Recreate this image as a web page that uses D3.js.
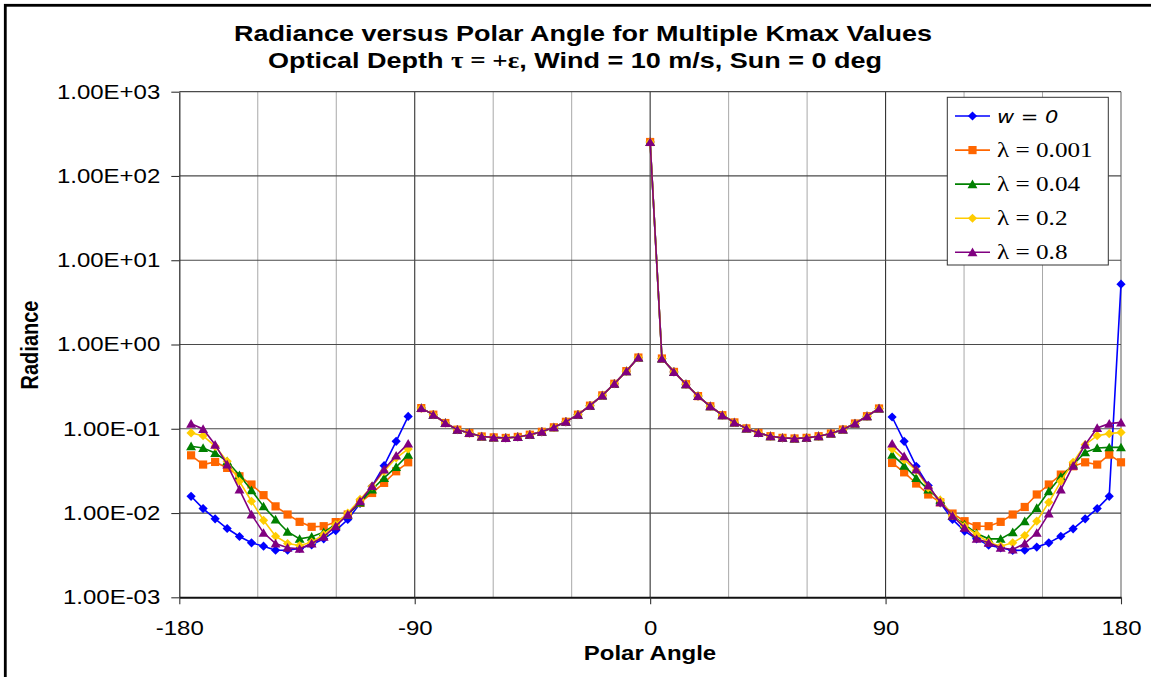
<!DOCTYPE html>
<html>
<head>
<meta charset="utf-8">
<script src="https://cdn.jsdelivr.net/npm/d3@7/dist/d3.min.js"></script>
<style>
  body { margin: 0; background: #fff; }
  svg { display: block; }
</style>
</head>
<body>
<svg id="chart" width="1151" height="677"></svg>
<script>
// ---- Data --------------------------------------------------------------
// Polar angles (deg) of the sampled directions.
const lowerLeftAngles  = [-175.5, -170.9, -166.3, -161.7, -157.0, -152.4, -147.8, -143.2, -138.6, -134.0,
                          -129.4, -124.8, -120.2, -115.6, -110.9, -106.3, -101.7, -97.1, -92.5];
const skyLeftAngles    = [-87.5, -82.9, -78.3, -73.7, -69.1, -64.4, -59.8, -55.2, -50.6, -46.0,
                          -41.4, -36.8, -32.2, -27.6, -23.0, -18.3, -13.7, -9.1, -4.5];
const skyRightAngles   = [0, 4.5, 9.1, 13.7, 18.3, 23.0, 27.6, 32.2, 36.8, 41.4, 46.0,
                          50.6, 55.2, 59.8, 64.4, 69.1, 73.7, 78.3, 82.9, 87.5];
const lowerRightAngles = [92.5, 97.1, 101.7, 106.3, 110.9, 115.6, 120.2, 124.8, 129.4, 134.0,
                          138.6, 143.2, 147.8, 152.4, 157.0, 161.7, 166.3, 170.9, 175.5, 180];

// Sky radiance is the same for every case.
const skyLeftRadiance  = [0.176, 0.147, 0.117, 0.0975, 0.089, 0.081, 0.079, 0.0778, 0.080, 0.085,
                          0.092, 0.104, 0.121, 0.147, 0.188, 0.249, 0.342, 0.483, 0.70];
const skyRightRadiance = [253, 0.682, 0.473, 0.338, 0.244, 0.185, 0.145, 0.119, 0.101, 0.0893, 0.0816,
                          0.078, 0.0767, 0.078, 0.0816, 0.0879, 0.098, 0.1155, 0.141, 0.174];

// Radiance below the horizon, per case.
const w0Left     = [0.0158, 0.0113, 0.00853, 0.00655, 0.00527, 0.00443, 0.00404, 0.00362, 0.00362, 0.0038,
                    0.0042, 0.00494, 0.0062, 0.00838, 0.013, 0.0208, 0.0365, 0.071, 0.140];
const w0Right    = [0.138, 0.071, 0.0359, 0.0212, 0.0132, 0.0084, 0.0061, 0.00494, 0.00416, 0.00387,
                    0.0036, 0.00362, 0.00394, 0.00443, 0.0053, 0.0065, 0.00853, 0.0113, 0.0158, 5.2];
const lam0001Left  = [0.0484, 0.0376, 0.0404, 0.0343, 0.0273, 0.0218, 0.0163, 0.0120, 0.0096, 0.00786,
                      0.00686, 0.00698, 0.0078, 0.0096, 0.0132, 0.0173, 0.0228, 0.0313, 0.040];
const lam0001Right = [0.0393, 0.0304, 0.0224, 0.0166, 0.0134, 0.00986, 0.0080, 0.00698, 0.00698, 0.00786,
                      0.0096, 0.0118, 0.0166, 0.0218, 0.0286, 0.0359, 0.040, 0.0376, 0.0493, 0.040];
const lam004Left   = [0.0619, 0.0592, 0.0516, 0.0411, 0.0281, 0.0186, 0.0120, 0.0084, 0.0060, 0.00494,
                      0.00522, 0.00593, 0.00731, 0.0096, 0.0133, 0.019, 0.0261, 0.0352, 0.0493];
const lam004Right  = [0.0493, 0.0365, 0.0261, 0.019, 0.0142, 0.0093, 0.0073, 0.00572, 0.00494, 0.00494,
                      0.00593, 0.0080, 0.0115, 0.0181, 0.0269, 0.0376, 0.0525, 0.0592, 0.0602, 0.0602];
const lam02Left    = [0.0892, 0.0828, 0.0619, 0.0411, 0.0238, 0.0138, 0.0082, 0.0053, 0.00435, 0.00412,
                      0.00451, 0.00556, 0.0073, 0.010, 0.0145, 0.0208, 0.0313, 0.045, 0.0576];
const lam02Right   = [0.0576, 0.043, 0.0321, 0.0199, 0.0142, 0.0093, 0.00698, 0.00556, 0.00451, 0.00404,
                      0.00443, 0.0054, 0.0080, 0.0134, 0.0238, 0.040, 0.0648, 0.0828, 0.0875, 0.0906];
const lam08Left    = [0.115, 0.0994, 0.0648, 0.0376, 0.019, 0.0096, 0.00582, 0.00435, 0.00387, 0.00376,
                      0.00435, 0.00522, 0.00698, 0.0096, 0.0138, 0.021, 0.0328, 0.048, 0.0667];
const lam08Right   = [0.0667, 0.0471, 0.0328, 0.0212, 0.0134, 0.0093, 0.00668, 0.00494, 0.00443, 0.00387,
                      0.0037, 0.00435, 0.00582, 0.00986, 0.019, 0.0365, 0.0648, 0.102, 0.115, 0.119];

const seriesNames = ["w = 0", "λ = 0.001", "λ = 0.04", "λ = 0.2", "λ = 0.8"];
const seriesLeft  = [w0Left, lam0001Left, lam004Left, lam02Left, lam08Left];
const seriesRight = [w0Right, lam0001Right, lam004Right, lam02Right, lam08Right];

const xTicks = [-180, -90, 0, 90, 180];
const xTickLabels = ["-180", "-90", "0", "90", "180"];
const xMinorTicks = [-150, -120, -60, -30, 30, 60, 120, 150];
const yTicks = [1e-3, 1e-2, 1e-1, 1e0, 1e1, 1e2, 1e3];
const yTickLabels = ["1.00E-03", "1.00E-02", "1.00E-01", "1.00E+00", "1.00E+01", "1.00E+02", "1.00E+03"];

const titleLine1 = "Radiance versus Polar Angle for Multiple Kmax Values";
const xTitle = "Polar Angle";
const yTitle = "Radiance";

// ---- Styles --------------------------------------------------------------
const colors  = ["#0000FF", "#FF6600", "#008000", "#FFCC00", "#800080"];
const markers = ["diamond", "square", "triangle", "diamond", "triangle"];
const SANS = "'Liberation Sans', Arial, sans-serif";
const SERIF = "'Liberation Serif', 'Times New Roman', serif";
const WIDEN = 1.2;   // text is set slightly wide

const svg = d3.select("#chart");
const plotL = 179.3, plotR = 1121, plotT = 91.7, plotB = 597.3;

const x = d3.scaleLinear().domain([-180, 180]).range([plotL, plotR]);
const y = d3.scaleLog().domain([1e-3, 1e3]).range([plotB, plotT]);

// outer frame
svg.append("rect").attr("x", 5.3).attr("y", 5.3).attr("width", 1300).attr("height", 800)
  .attr("fill", "none").attr("stroke", "#000").attr("stroke-width", 2.8);

// ---- Grid ----------------------------------------------------------------
const grid = svg.append("g");
grid.selectAll("line.vminor").data(xMinorTicks).join("line").attr("class", "vminor")
  .attr("x1", d => x(d)).attr("x2", d => x(d)).attr("y1", plotT).attr("y2", plotB)
  .attr("stroke", "#a8a8a8").attr("stroke-width", 1);
grid.selectAll("line.vmajor").data(xTicks.filter(d => d > -180 && d < 180)).join("line").attr("class", "vmajor")
  .attr("x1", d => x(d)).attr("x2", d => x(d)).attr("y1", plotT).attr("y2", plotB)
  .attr("stroke", "#333").attr("stroke-width", 1.1);
grid.append("line").attr("x1", x(180)).attr("x2", x(180)).attr("y1", plotT).attr("y2", plotB)
  .attr("stroke", "#999").attr("stroke-width", 1.6);
grid.selectAll("line.hmajor").data(yTicks.slice(1)).join("line").attr("class", "hmajor")
  .attr("x1", plotL).attr("x2", plotR).attr("y1", d => y(d)).attr("y2", d => y(d))
  .attr("stroke", "#4a4a4a").attr("stroke-width", 1.2);

// ---- Axes ----------------------------------------------------------------
const yAxis = svg.append("g").attr("transform", `translate(${plotL},0)`)
  .call(d3.axisLeft(y).tickValues(yTicks).tickFormat((d, i) => yTickLabels[i])
    .tickSize(8).tickPadding(11).tickSizeOuter(0));
const xAxis = svg.append("g").attr("transform", `translate(0,${plotB})`)
  .call(d3.axisBottom(x).tickValues(xTicks).tickFormat((d, i) => xTickLabels[i])
    .tickSize(7).tickPadding(17).tickSizeOuter(0));

[yAxis, xAxis].forEach(a => {
  a.select(".domain").attr("stroke", "#333").attr("stroke-width", 1.3);
  a.selectAll(".tick line").attr("stroke", "#333").attr("stroke-width", 1.1);
  a.selectAll(".tick text").attr("fill", "#000")
    .style("font-family", SANS).style("font-size", "20px");
});
xAxis.select(".domain").attr("stroke", "#111").attr("stroke-width", 2);
// widen tick labels about their anchor
yAxis.selectAll(".tick text").each(function () {
  const t = d3.select(this), tx = +t.attr("x");
  t.attr("x", 0).attr("transform", `translate(${tx},0) scale(${WIDEN},1)`);
});
xAxis.selectAll(".tick text").attr("transform", `scale(${WIDEN},1)`);

// ---- Series --------------------------------------------------------------
const symbolTypes = {
  diamond: { draw(ctx, r) { ctx.moveTo(0, -r); ctx.lineTo(r, 0); ctx.lineTo(0, r); ctx.lineTo(-r, 0); ctx.closePath(); } },
  square:  { draw(ctx, r) { ctx.rect(-r, -r, 2 * r, 2 * r); } },
  triangle:{ draw(ctx, r) { ctx.moveTo(0, -r); ctx.lineTo(r * 1.05, r * 0.85); ctx.lineTo(-r * 1.05, r * 0.85); ctx.closePath(); } }
};
const markerSize = { diamond: 4.6, square: 4.1, triangle: 4.7 };
const symbolPath = k => d3.symbol().type(symbolTypes[k]).size(markerSize[k])();

const line = d3.line().x(d => x(d[0])).y(d => y(d[1]));

seriesNames.forEach((name, i) => {
  const segments = [
    d3.zip(lowerLeftAngles, seriesLeft[i]),
    d3.zip(skyLeftAngles, skyLeftRadiance),
    d3.zip(skyRightAngles, skyRightRadiance),
    d3.zip(lowerRightAngles, seriesRight[i])
  ];
  const g = svg.append("g");
  g.selectAll("path.seg").data(segments).join("path").attr("class", "seg")
    .attr("d", line).attr("fill", "none")
    .attr("stroke", colors[i]).attr("stroke-width", 1.6);
  const pts = segments.flat();
  g.selectAll("path.mk").data(pts).join("path").attr("class", "mk")
    .attr("transform", d => `translate(${x(d[0])},${y(d[1])})`)
    .attr("d", symbolPath(markers[i]))
    .attr("fill", colors[i]);
});

// ---- Titles --------------------------------------------------------------
function wideText(parent, tx, ty, rotate) {
  return parent.append("text")
    .attr("transform", `translate(${tx},${ty}) scale(${WIDEN},1)` + (rotate ? ` rotate(${rotate})` : ""))
    .attr("text-anchor", "middle").attr("fill", "#000");
}
wideText(svg, 583, 41).style("font-family", SANS).style("font-size", "22.5px")
  .style("font-weight", "bold").text(titleLine1);
const t2 = wideText(svg, 575, 68).style("font-family", SANS).style("font-size", "22.5px")
  .style("font-weight", "bold");
t2.append("tspan").text("Optical Depth ");
t2.append("tspan").style("font-family", SERIF).text("τ = +ε");
t2.append("tspan").text(", Wind = 10 m/s, Sun = 0 deg");

wideText(svg, 650, 660).style("font-family", SANS).style("font-size", "20px")
  .style("font-weight", "bold").text(xTitle);
wideText(svg, 38, 345, -90).style("font-family", SANS).style("font-size", "20px")
  .style("font-weight", "bold").text(yTitle);

// ---- Legend --------------------------------------------------------------
const lg = svg.append("g");
lg.append("rect").attr("x", 947.3).attr("y", 97.3).attr("width", 161).attr("height", 167.7)
  .attr("fill", "#fff").attr("stroke", "#333").attr("stroke-width", 1);
const rowY = d3.scalePoint().domain(seriesNames).range([116, 252.3]);
seriesNames.forEach((name, i) => {
  const yy = rowY(name);
  lg.append("line").attr("x1", 955).attr("x2", 990).attr("y1", yy).attr("y2", yy)
    .attr("stroke", colors[i]).attr("stroke-width", 1.6);
  lg.append("path").attr("transform", `translate(972.5,${yy})`)
    .attr("d", symbolPath(markers[i])).attr("fill", colors[i]);
  const t = lg.append("text").attr("transform", `translate(997,${yy + 7}) scale(${WIDEN},1)`)
    .attr("fill", "#000").text(name);
  if (i === 0) t.style("font-family", "'DejaVu Sans', sans-serif").style("font-style", "italic").style("font-size", "17.5px");
  else t.style("font-family", SERIF).style("font-size", "21px");
});
</script>
</body>
</html>
